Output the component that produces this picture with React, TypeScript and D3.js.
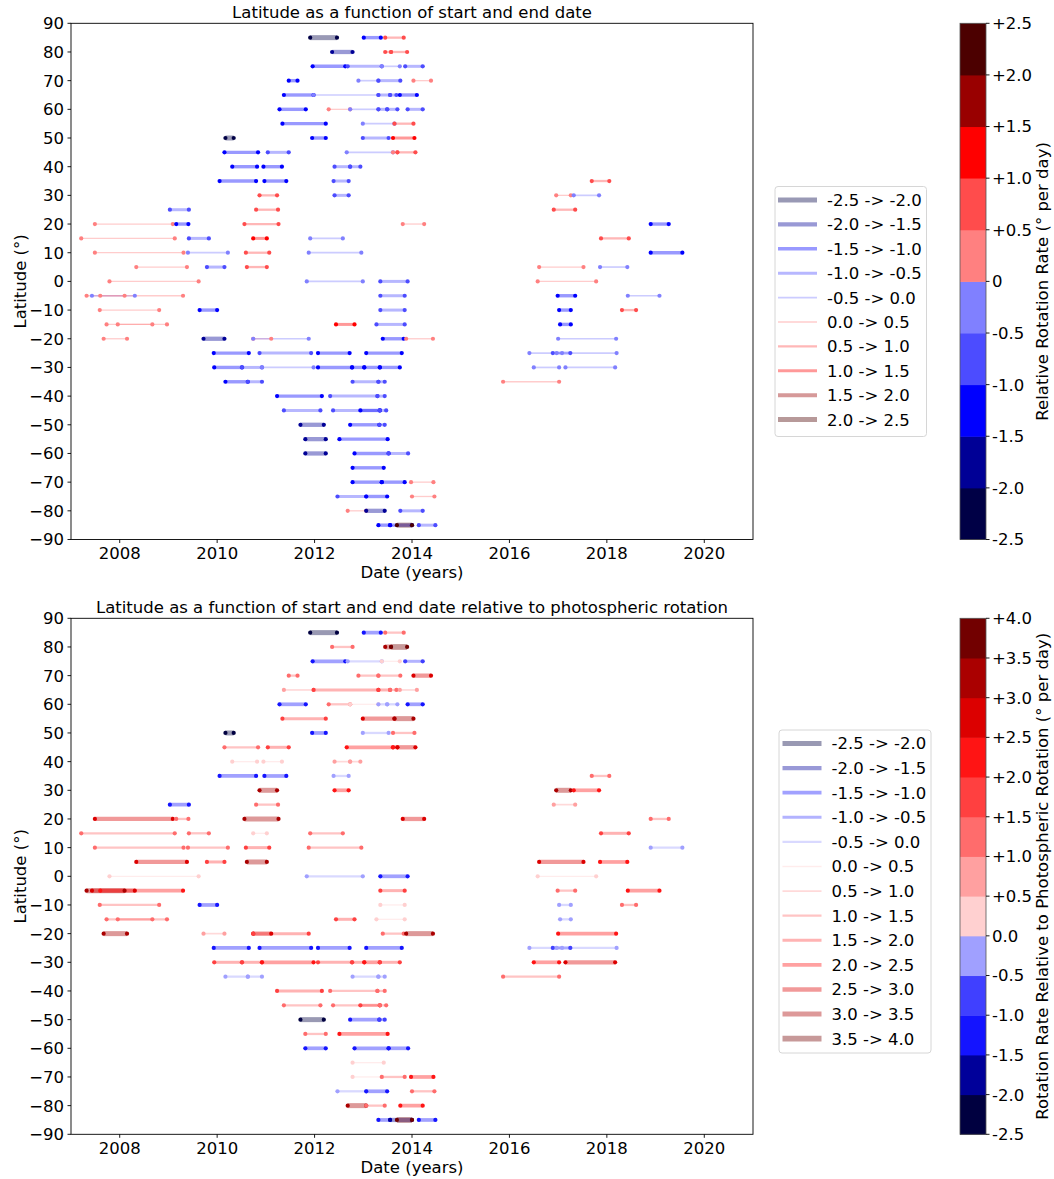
import React from "react";
import * as d3 from "d3";

// [latitude, start year, end year, relative rate, rate relative to photosphere]
type Segment = [number, number, number, number, number];

const segments: Segment[] = [
  [85, 2011.91, 2012.46, -2.25, -2.25],
  [85, 2013.01, 2013.36, -1.25, -1.25],
  [85, 2013.45, 2013.83, 0.75, 1.25],
  [80, 2012.36, 2012.78, -1.75, 1.25],
  [80, 2013.45, 2013.57, 0.75, 3.25],
  [80, 2013.57, 2013.9, 0.75, 3.75],
  [75, 2011.96, 2012.63, -1.25, -1.25],
  [75, 2012.68, 2013.38, -0.75, -0.25],
  [75, 2013.38, 2013.75, -0.25, 0.25],
  [75, 2013.86, 2014.22, -0.75, -0.75],
  [70, 2011.47, 2011.65, -1.25, 1.25],
  [70, 2012.9, 2013.31, -0.25, 1.25],
  [70, 2013.31, 2013.76, -0.75, 1.25],
  [70, 2014.03, 2014.39, 0.25, 2.75],
  [65, 2011.37, 2011.98, -1.25, 0.75],
  [65, 2011.98, 2013.31, -0.25, 1.75],
  [65, 2013.31, 2013.55, -0.75, 1.75],
  [65, 2013.55, 2013.68, -0.75, 1.25],
  [65, 2013.75, 2014.1, -1.25, 0.75],
  [60, 2011.28, 2011.82, -1.25, -1.25],
  [60, 2012.29, 2012.73, 0.25, 1.25],
  [60, 2012.73, 2013.31, -0.25, 0.25],
  [60, 2013.31, 2013.49, -0.75, -0.25],
  [60, 2013.49, 2013.7, -0.75, -0.25],
  [60, 2013.91, 2014.22, -0.75, -1.25],
  [55, 2011.34, 2012.23, -1.25, 1.75],
  [55, 2012.99, 2013.64, -0.25, 2.75],
  [55, 2013.64, 2014.03, 0.75, 3.25],
  [50, 2010.17, 2010.34, -2.25, -2.25],
  [50, 2011.95, 2012.23, -1.25, -1.25],
  [50, 2012.99, 2013.52, -0.75, -0.25],
  [50, 2013.61, 2014.05, 1.25, 1.25],
  [45, 2010.15, 2010.84, -1.25, 1.25],
  [45, 2011.04, 2011.47, -0.75, 1.75],
  [45, 2012.66, 2013.61, -0.25, 2.25],
  [45, 2013.61, 2013.7, 0.25, 2.25],
  [45, 2013.7, 2014.07, 0.75, 2.75],
  [40, 2010.31, 2010.82, -1.25, 0.25],
  [40, 2010.95, 2011.33, -1.25, 0.25],
  [40, 2012.41, 2012.73, -0.75, 0.75],
  [40, 2012.73, 2012.94, -0.75, 0.75],
  [35, 2010.05, 2010.8, -1.25, -1.25],
  [35, 2010.97, 2011.42, -1.25, -1.25],
  [35, 2012.39, 2012.7, -0.75, -0.25],
  [30, 2010.87, 2011.23, 0.75, 3.25],
  [30, 2012.41, 2012.7, -0.75, 2.25],
  [25, 2009.03, 2009.42, -0.75, -1.25],
  [25, 2010.8, 2011.25, 0.75, 1.25],
  [20, 2007.49, 2009.09, 0.25, 2.75],
  [20, 2009.16, 2009.41, -1.25, 1.25],
  [20, 2010.56, 2011.26, 0.75, 3.25],
  [20, 2013.81, 2014.25, 0.25, 2.75],
  [15, 2007.21, 2009.13, 0.25, 1.25],
  [15, 2009.42, 2009.83, -0.75, 1.25],
  [15, 2010.74, 2011.02, 1.25, 0.25],
  [15, 2011.91, 2012.58, -0.25, 1.25],
  [10, 2007.49, 2009.31, 0.25, 1.25],
  [10, 2009.4, 2010.22, -0.25, 1.25],
  [10, 2010.59, 2011.07, 0.75, 1.75],
  [10, 2011.88, 2012.96, -0.25, 1.25],
  [5, 2008.34, 2009.38, 0.25, 2.75],
  [5, 2009.79, 2010.15, -0.75, 1.75],
  [5, 2010.61, 2011.02, 0.75, 3.25],
  [0, 2007.79, 2009.62, 0.25, 0.25],
  [0, 2011.84, 2012.99, -0.25, -0.25],
  [0, 2013.35, 2013.91, -0.75, -1.25],
  [-5, 2007.32, 2008.1, 0.25, 3.25],
  [-5, 2007.43, 2008.31, -0.25, 2.75],
  [-5, 2007.6, 2009.3, 0.25, 2.25],
  [-5, 2013.35, 2013.85, -0.75, 1.75],
  [-10, 2007.59, 2008.81, 0.25, 1.25],
  [-10, 2009.64, 2010.0, -1.25, -1.25],
  [-10, 2013.35, 2013.85, -0.75, 0.25],
  [-15, 2007.73, 2008.97, 0.25, 1.25],
  [-15, 2007.96, 2008.67, 0.25, 1.25],
  [-15, 2012.44, 2012.82, 1.25, 1.75],
  [-15, 2013.27, 2013.85, -0.75, 0.25],
  [-20, 2007.67, 2008.15, 0.25, 3.25],
  [-20, 2009.72, 2010.15, -1.75, 0.75],
  [-20, 2010.74, 2011.11, 0.25, 2.75],
  [-20, 2010.74, 2011.88, -0.25, 1.75],
  [-20, 2013.4, 2013.83, -1.25, 1.25],
  [-20, 2013.88, 2014.43, 0.25, 3.25],
  [-25, 2009.93, 2010.65, -1.25, -1.25],
  [-25, 2010.87, 2011.93, -0.75, -1.25],
  [-25, 2012.07, 2012.72, -1.25, -1.25],
  [-25, 2013.06, 2013.79, -1.25, -1.25],
  [-30, 2009.94, 2010.51, -1.25, 1.75],
  [-30, 2010.51, 2010.92, -0.75, 1.75],
  [-30, 2010.92, 2011.98, -0.25, 2.25],
  [-30, 2012.07, 2012.77, -1.25, 1.75],
  [-30, 2012.77, 2013.02, -1.25, 1.75],
  [-30, 2013.02, 2013.34, -1.25, 2.25],
  [-30, 2013.34, 2013.75, -1.25, 1.75],
  [-35, 2010.17, 2010.63, -1.25, -0.25],
  [-35, 2010.63, 2010.92, -0.75, -0.25],
  [-35, 2012.78, 2013.31, -0.75, -0.25],
  [-35, 2013.31, 2013.44, -0.75, -0.25],
  [-40, 2011.23, 2012.15, -1.25, 1.75],
  [-40, 2012.32, 2013.29, -0.75, 1.25],
  [-40, 2013.29, 2013.44, -0.75, 1.25],
  [-45, 2011.37, 2012.12, -0.75, 1.25],
  [-45, 2012.38, 2013.34, -0.75, 1.25],
  [-45, 2012.94, 2013.34, -1.25, 1.75],
  [-45, 2013.34, 2013.47, -0.75, 1.25],
  [-50, 2011.71, 2012.19, -1.75, -2.25],
  [-50, 2012.73, 2013.33, -1.25, -1.25],
  [-50, 2013.33, 2013.44, -0.75, -0.75],
  [-55, 2011.81, 2012.23, -1.75, 1.25],
  [-55, 2012.51, 2013.5, -1.25, 2.25],
  [-60, 2011.81, 2012.23, -1.75, -1.25],
  [-60, 2012.82, 2013.52, -1.25, -1.25],
  [-60, 2013.52, 2013.92, -0.75, -1.25],
  [-65, 2012.78, 2013.42, -1.25, 0.25],
  [-70, 2012.78, 2013.38, -1.25, 0.25],
  [-70, 2013.38, 2013.85, -1.25, 1.25],
  [-70, 2013.98, 2014.44, 0.25, 2.25],
  [-75, 2012.47, 2013.06, -0.75, -0.25],
  [-75, 2013.06, 2013.49, -1.25, -1.25],
  [-75, 2014.0, 2014.46, 0.25, 1.25],
  [-80, 2012.68, 2013.06, 0.25, 3.25],
  [-80, 2013.06, 2013.44, -1.75, 1.25],
  [-80, 2013.76, 2014.22, -0.75, 2.25],
  [-85, 2013.31, 2013.55, -1.25, -1.25],
  [-85, 2013.55, 2014.0, -1.25, -1.75],
  [-85, 2013.69, 2014.0, 2.25, 3.75],
  [-85, 2014.14, 2014.48, -0.75, -1.25],
  // later group, 2016 - 2020
  [35, 2017.69, 2018.05, 0.75, 1.25],
  [30, 2016.96, 2017.26, 0.25, 3.25],
  [30, 2017.32, 2017.84, -0.25, 2.25],
  [25, 2016.91, 2017.35, 0.75, 0.75],
  [20, 2018.9, 2019.27, -1.25, 1.25],
  [15, 2017.88, 2018.45, 0.75, 1.75],
  [10, 2018.9, 2019.55, -1.25, -0.25],
  [5, 2016.61, 2017.52, 0.25, 2.75],
  [5, 2017.86, 2018.42, -0.25, 2.25],
  [0, 2016.58, 2017.78, 0.25, 0.25],
  [-5, 2016.99, 2017.35, -1.25, 1.25],
  [-5, 2018.43, 2019.08, -0.25, 2.25],
  [-10, 2017.02, 2017.26, -1.25, -0.25],
  [-10, 2018.31, 2018.6, 0.75, 1.25],
  [-15, 2017.04, 2017.26, -1.25, -0.25],
  [-20, 2017.0, 2018.19, -0.25, 2.25],
  [-25, 2016.41, 2017.08, -0.25, -0.25],
  [-25, 2016.89, 2017.25, -0.75, -0.75],
  [-25, 2016.97, 2018.2, -0.25, -0.25],
  [-30, 2016.5, 2017.02, -0.25, 2.25],
  [-30, 2017.15, 2018.17, -0.25, 2.75],
  [-35, 2015.87, 2017.02, 0.25, 1.25],
];

const yearTicks = [2008, 2010, 2012, 2014, 2016, 2018, 2020];
const latTicks = [90, 80, 70, 60, 50, 40, 30, 20, 10, 0, -10, -20, -30, -40, -50, -60, -70, -80, -90];

const relEdges = [-2.5, -2.0, -1.5, -1.0, -0.5, 0.0, 0.5, 1.0, 1.5, 2.0, 2.5];
const relColors = ["#000046", "#000096", "#0000ff", "#4c4cff", "#8080ff", "#ff8080", "#ff4c4c", "#ff0000", "#990000", "#4c0000"];
const relTickLabels = ["-2.5", "-2.0", "-1.5", "-1.0", "-0.5", "0", "+0.5", "+1.0", "+1.5", "+2.0", "+2.5"];

const photoEdges = [-2.5, -2.0, -1.5, -1.0, -0.5, 0.0, 0.5, 1.0, 1.5, 2.0, 2.5, 3.0, 3.5, 4.0];
const photoColors = ["#000040", "#00009a", "#1414ff", "#4040ff", "#a0a0ff", "#ffd0d0", "#ffa0a0", "#ff6c6c", "#ff4040", "#ff1414", "#dc0000", "#aa0000", "#720000"];
const photoTickLabels = ["-2.5", "-2.0", "-1.5", "-1.0", "-0.5", "0.0", "+0.5", "+1.0", "+1.5", "+2.0", "+2.5", "+3.0", "+3.5", "+4.0"];

const FONT = "'DejaVu Sans', sans-serif";
const FS = 16.5;
const LEFT = 71;
const RIGHT = 753;

const tickText = (v: number) => (v < 0 ? "\u2212" + Math.abs(v) : String(v));

interface IPanel {
  top: number;
  bottom: number;
  title: string;
  rate: 3 | 4;
  edges: number[];
  colors: string[];
  widths: number[];
  tickLabels: string[];
  cbLabel: string;
  legend: { x: number; y: number; w: number; h: number; lineX: number; lineW: number; textX: number; first: number; step: number };
}

const Panel = ({ p }: { p: IPanel }) => {
  const x = d3.scaleLinear().domain([2007, 2021]).range([LEFT, RIGHT]);
  const y = d3.scaleLinear().domain([-90, 90]).range([p.bottom, p.top]);
  const cb = d3.scaleLinear().domain([p.edges[0], p.edges[p.edges.length - 1]]).range([p.bottom, p.top]);
  const inner = p.edges.slice(1, -1);
  const color = d3.scaleThreshold<number, string>().domain(inner).range(p.colors);
  const width = d3.scaleThreshold<number, number>().domain(inner).range(p.widths);
  const midX = (LEFT + RIGHT) / 2;
  const midY = (p.top + p.bottom) / 2;
  const cbX = 960;
  const cbW = 26;

  return (
    <g>
      <text x={midX} y={p.top - 5} textAnchor="middle" fontSize={FS}>{p.title}</text>

      {segments.map((s, i) => (
        <line key={"l" + i} x1={x(s[1])} x2={x(s[2])} y1={y(s[0])} y2={y(s[0])}
          stroke={color(s[p.rate])} strokeOpacity={0.4} strokeWidth={width(s[p.rate])} />
      ))}
      {segments.map((s, i) => (
        <g key={"d" + i} fill={color(s[p.rate])}>
          <circle cx={x(s[1])} cy={y(s[0])} r={2.1} />
          <circle cx={x(s[2])} cy={y(s[0])} r={2.1} />
        </g>
      ))}

      <rect x={LEFT} y={p.top} width={RIGHT - LEFT} height={p.bottom - p.top} fill="none" stroke="#000" strokeWidth={0.9} />
      {yearTicks.map((t) => (
        <g key={"x" + t} transform={`translate(${x(t)},${p.bottom})`}>
          <line y2={3.5} stroke="#000" strokeWidth={0.9} />
          <text y={19.5} textAnchor="middle" fontSize={FS}>{t}</text>
        </g>
      ))}
      {latTicks.map((t) => (
        <g key={"y" + t} transform={`translate(${LEFT},${y(t)})`}>
          <line x2={-3.5} stroke="#000" strokeWidth={0.9} />
          <text x={-7} dy="0.36em" textAnchor="end" fontSize={FS}>{tickText(t)}</text>
        </g>
      ))}
      <text x={midX} y={p.bottom + 38.5} textAnchor="middle" fontSize={FS}>Date (years)</text>
      <text transform={`translate(26,${midY}) rotate(-90)`} textAnchor="middle" fontSize={FS}>Latitude (°)</text>

      <rect x={p.legend.x} y={p.legend.y} width={p.legend.w} height={p.legend.h} rx={3}
        fill="#fff" fillOpacity={0.8} stroke="#d6d6d6" strokeWidth={1} />
      {p.colors.map((c, i) => {
        const ly = p.legend.first + i * p.legend.step;
        return (
          <g key={"g" + i}>
            <line x1={p.legend.lineX} x2={p.legend.lineX + p.legend.lineW} y1={ly} y2={ly}
              stroke={c} strokeOpacity={0.4} strokeWidth={p.widths[i]} />
            <text x={p.legend.textX} y={ly} dy="0.36em" fontSize={FS}>
              {`${p.edges[i].toFixed(1)} -> ${p.edges[i + 1].toFixed(1)}`}
            </text>
          </g>
        );
      })}

      {p.colors.map((c, i) => (
        <rect key={"c" + i} x={cbX} y={cb(p.edges[i + 1])} width={cbW} height={cb(p.edges[i]) - cb(p.edges[i + 1]) + 0.5} fill={c} />
      ))}
      <rect x={cbX} y={p.top} width={cbW} height={p.bottom - p.top} fill="none" stroke="#555" strokeWidth={0.8} />
      {p.edges.map((e, i) => (
        <g key={"t" + i} transform={`translate(${cbX + cbW},${cb(e)})`}>
          <line x2={3.5} stroke="#000" strokeWidth={0.9} />
          <text x={6} dy="0.36em" fontSize={FS}>{p.tickLabels[i]}</text>
        </g>
      ))}
      <text transform={`translate(1048,${midY}) rotate(-90)`} textAnchor="middle" fontSize={FS}>{p.cbLabel}</text>
    </g>
  );
};

const topPanel: IPanel = {
  top: 23.3,
  bottom: 539.5,
  title: "Latitude as a function of start and end date",
  rate: 3,
  edges: relEdges,
  colors: relColors,
  widths: [5, 4.3, 3.4, 3, 1.7, 1.3, 2.3, 3, 4, 5],
  tickLabels: relTickLabels,
  cbLabel: "Relative Rotation Rate (° per day)",
  legend: { x: 775, y: 186.5, w: 151.5, h: 250, lineX: 778, lineW: 39, textX: 827, first: 200, step: 24.4 },
};

const bottomPanel: IPanel = {
  top: 618.3,
  bottom: 1134.3,
  title: "Latitude as a function of start and end date relative to photospheric rotation",
  rate: 4,
  edges: photoEdges,
  colors: photoColors,
  widths: [5, 4.3, 3.7, 3, 2.3, 1.3, 1.7, 2.3, 3, 3.7, 4.3, 5, 5.7],
  tickLabels: photoTickLabels,
  cbLabel: "Rotation Rate Relative to Photospheric Rotation (° per day)",
  legend: { x: 779, y: 730, w: 152, h: 323, lineX: 782.5, lineW: 39, textX: 831.5, first: 743.5, step: 24.6 },
};

const App = () => (
  <svg width={1054} height={1179} style={{ position: "absolute", left: 0, top: 0, fontFamily: FONT }}>
    <rect width={1054} height={1179} fill="#fff" />
    <Panel p={topPanel} />
    <Panel p={bottomPanel} />
  </svg>
);

export default App;
